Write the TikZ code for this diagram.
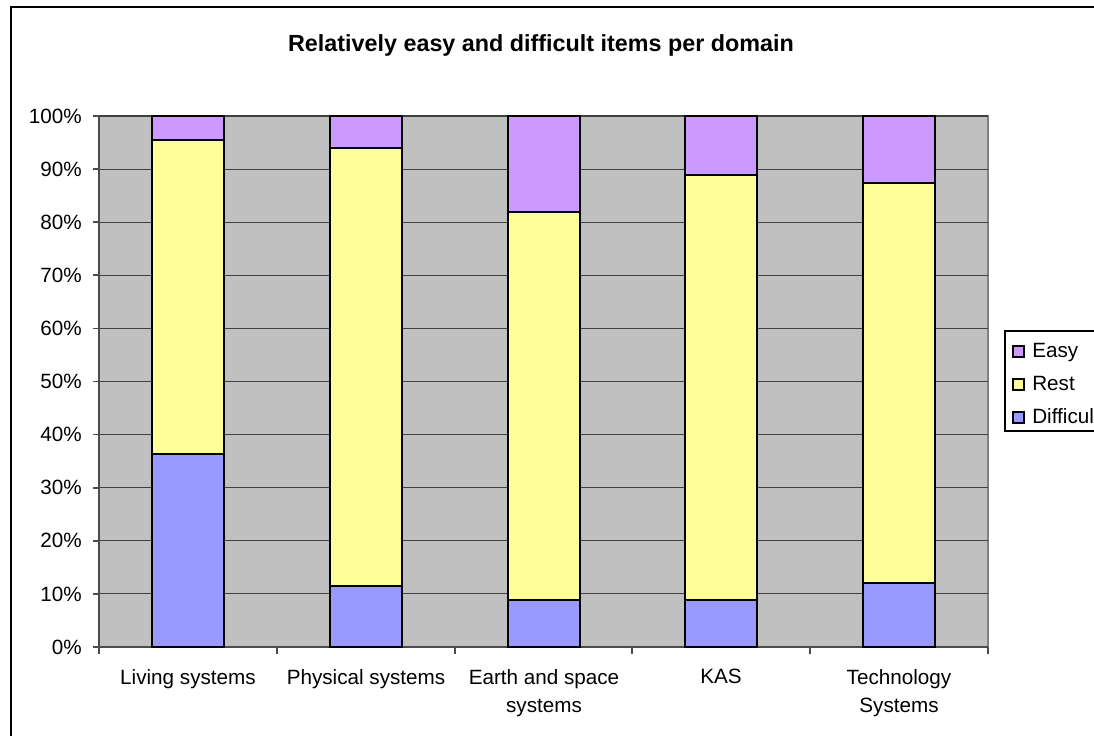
\documentclass[tikz,border=0pt]{standalone}
\usepackage{fontspec}
\setmainfont{Liberation Sans}
\definecolor{easycol}{HTML}{CC99FF}
\definecolor{restcol}{HTML}{FFFF99}
\definecolor{diffcol}{HTML}{9999FF}
\definecolor{plotbg}{HTML}{C0C0C0}
% one stacked bar: centre x, top of Difficult, top of Rest
\newcommand\stackbar[3]{%
  \filldraw[bar,fill=diffcol] (#1-36,647) rectangle (#1+36,#2);
  \filldraw[bar,fill=restcol] (#1-36,#2) rectangle (#1+36,#3);
  \filldraw[bar,fill=easycol] (#1-36,#3) rectangle (#1+36,116);}
\begin{document}
\begin{tikzpicture}[x=0.75pt,y=-0.75pt,
     bar/.style = {draw=black,line width=1.4pt},
     grid/.style = {draw=black!75,line width=0.8pt},
     axis/.style = {draw=black!70,line width=1.3pt},
     every node/.style = {inner sep=0pt,font=\fontsize{15.5}{21}\selectfont}]
   \useasboundingbox (0,0) rectangle (1094,735);
   \clip (0,0) rectangle (1094,735);
   \draw[line width=1.3pt] (11,7) rectangle (1130,770);
   \node[anchor=base,font=\bfseries\fontsize{17.5}{21}\selectfont] (title) at (541,51)
     {Relatively easy and difficult items per domain};
   % plot area
   \fill[plotbg] (99,116) rectangle (988,647);
   \draw[draw=black!50,line width=1pt] (99,116) -- (988,116) -- (988,647);
   \foreach \k [evaluate=\k as \p using int(10*\k)] in {0,...,10} {
     \draw[grid] (99,{647-53.1*\k}) -- (988,{647-53.1*\k});
     \draw[axis] (93,{647-53.1*\k}) -- (99,{647-53.1*\k});
     \node[anchor=east] (p\p) at (82,{647-53.1*\k}) {\p\%};
   }
   \draw[axis] (99,116) -- (99,647) -- (988,647);
   \foreach \t in {99,277,455,632,810,988}
     \draw[axis] (\t,647) -- (\t,654);
   % bars
   \stackbar{188}{454}{140}
   \stackbar{366}{585.7}{148.3}
   \stackbar{544}{600}{212.3}
   \stackbar{721}{600}{175.3}
   \stackbar{899}{582.7}{183.3}
   % categories
   \node[anchor=north,align=center] (living) at (188,669) {Living systems};
   \node[anchor=north,align=center] (physical) at (366,669) {Physical systems};
   \node[anchor=north,align=center] (earth) at (544,669) {Earth and space\\systems};
   \node[anchor=north,align=center] (kas) at (721,669) {KAS};
   \node[anchor=north,align=center] (techno) at (899,669) {Technology\\Systems};
   % legend
   \draw[line width=0.8pt,fill=white] (1005,331) rectangle (1130,431);
   \filldraw[line width=0.8pt,fill=easycol] (1013,346) rectangle (1024,357);
   \filldraw[line width=0.8pt,fill=restcol] (1013,379) rectangle (1024,390);
   \filldraw[line width=0.8pt,fill=diffcol] (1013,412) rectangle (1024,423);
   \node[anchor=base west] (easy) at (1032,357) {Easy};
   \node[anchor=base west] (rest) at (1032,390) {Rest};
   \node[anchor=base west] (difficult) at (1032,423) {Difficult};
\end{tikzpicture}
\end{document}
